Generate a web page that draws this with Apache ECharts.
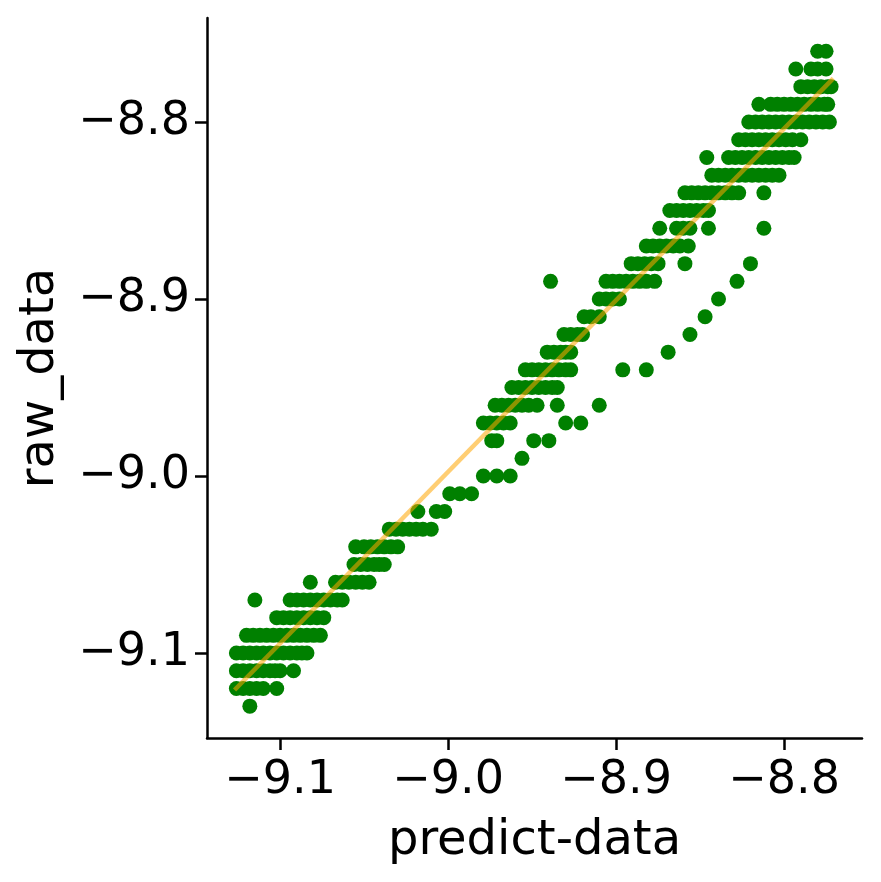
<!DOCTYPE html>
<html>
<head>
<meta charset="utf-8">
<script src="https://cdn.jsdelivr.net/npm/echarts@6/dist/echarts.min.js"></script>
<style>
html,body{margin:0;padding:0;background:#fff;}
#chart{width:881px;height:882px;}
</style>
</head>
<body>
<div id="chart"></div>
<script>
// raw_data levels (y) and the predict-data values (x) of the points at each level
const rawLevels = [-9.13,-9.12,-9.11,-9.10,-9.09,-9.08,-9.07,-9.06,-9.05,-9.04,-9.03,-9.02,-9.01,-9.00,-8.99,-8.98,-8.97,-8.96,-8.95,-8.94,-8.93,-8.92,-8.91,-8.90,-8.89,-8.88,-8.87,-8.86,-8.85,-8.84,-8.83,-8.82,-8.81,-8.80,-8.79,-8.78,-8.77,-8.76];
const predictByLevel = [
  [-9.118],
  [-9.126,-9.122,-9.118,-9.114,-9.110,-9.102],
  [-9.126,-9.122,-9.118,-9.114,-9.110,-9.106,-9.103,-9.100,-9.092],
  [-9.126,-9.122,-9.118,-9.114,-9.110,-9.106,-9.102,-9.098,-9.094,-9.090,-9.087,-9.084],
  [-9.120,-9.116,-9.112,-9.108,-9.104,-9.100,-9.096,-9.092,-9.088,-9.084,-9.080,-9.076],
  [-9.102,-9.098,-9.094,-9.090,-9.086,-9.082,-9.078,-9.074],
  [-9.115,-9.094,-9.090,-9.086,-9.082,-9.078,-9.074,-9.070,-9.066,-9.063],
  [-9.082,-9.067,-9.063,-9.059,-9.055,-9.051,-9.047],
  [-9.056,-9.052,-9.048,-9.044,-9.041,-9.038],
  [-9.055,-9.050,-9.046,-9.042,-9.038,-9.034,-9.030],
  [-9.035,-9.031,-9.027,-9.023,-9.019,-9.015,-9.010],
  [-9.018,-9.007,-9.002],
  [-8.999,-8.993,-8.986],
  [-8.979,-8.971,-8.963],
  [-8.956],
  [-8.974,-8.971,-8.949,-8.940],
  [-8.979,-8.975,-8.971,-8.967,-8.963,-8.930,-8.921],
  [-8.972,-8.968,-8.964,-8.960,-8.956,-8.952,-8.947,-8.935,-8.910],
  [-8.962,-8.958,-8.954,-8.950,-8.946,-8.942,-8.938,-8.935],
  [-8.954,-8.950,-8.946,-8.942,-8.938,-8.934,-8.930,-8.927,-8.896,-8.882],
  [-8.941,-8.937,-8.933,-8.930,-8.927,-8.869],
  [-8.931,-8.927,-8.923,-8.920,-8.856],
  [-8.919,-8.915,-8.910,-8.847],
  [-8.910,-8.906,-8.902,-8.898,-8.839],
  [-8.939,-8.906,-8.902,-8.898,-8.894,-8.890,-8.886,-8.882,-8.877,-8.828],
  [-8.891,-8.887,-8.883,-8.879,-8.875,-8.859,-8.820],
  [-8.882,-8.878,-8.874,-8.870,-8.866,-8.862,-8.857],
  [-8.874,-8.864,-8.860,-8.856,-8.845,-8.812],
  [-8.868,-8.864,-8.860,-8.856,-8.852,-8.848,-8.845],
  [-8.859,-8.855,-8.851,-8.847,-8.843,-8.839,-8.835,-8.831,-8.827,-8.812],
  [-8.843,-8.839,-8.835,-8.831,-8.827,-8.823,-8.819,-8.815,-8.811,-8.807,-8.803],
  [-8.846,-8.833,-8.829,-8.825,-8.821,-8.817,-8.813,-8.809,-8.805,-8.801,-8.797,-8.794],
  [-8.827,-8.823,-8.819,-8.815,-8.811,-8.807,-8.803,-8.799,-8.795,-8.790],
  [-8.821,-8.817,-8.813,-8.809,-8.805,-8.801,-8.797,-8.793,-8.789,-8.785,-8.781,-8.777,-8.773],
  [-8.815,-8.808,-8.804,-8.800,-8.796,-8.792,-8.788,-8.784,-8.780,-8.776,-8.774],
  [-8.790,-8.786,-8.782,-8.778,-8.774,-8.772],
  [-8.793,-8.784,-8.780,-8.775],
  [-8.780,-8.775]
];
// regression line end points (predict-data, raw_data)
const fitX = [-9.1271, -8.7707];
const fitY = [-9.1209, -8.7753];
// tick values
const xTicks = [-9.1, -9.0, -8.9, -8.8];
const yTicks = [-9.1, -9.0, -8.9, -8.8];

const points = [];
rawLevels.forEach((lv, i) => predictByLevel[i].forEach(px => points.push([px, lv])));
const fitLine = fitX.map((x, i) => [x, fitY[i]]);

const fmt = v => (v < 0 ? '\u2212' : '') + Math.abs(v).toFixed(1);
const FONT = 'DejaVu Sans';

const chart = echarts.init(document.getElementById('chart'), null, {renderer: 'canvas'});
chart.setOption({
  animation: false,
  backgroundColor: '#fff',
  grid: {left: 207, right: 19, top: 18, bottom: 144, containLabel: false, outerBoundsMode: 'none'},
  xAxis: {
    type: 'value', min: -9.1435, max: -8.7536,
    name: 'predict-data', nameLocation: 'middle', nameGap: 80,
    nameTextStyle: {fontFamily: FONT, fontSize: 48, color: '#000'},
    axisLine: {show: true, lineStyle: {color: '#000', width: 2.5}},
    axisTick: {show: true, inside: false, length: 12, lineStyle: {color: '#000', width: 2.5}, customValues: xTicks},
    axisLabel: {fontFamily: FONT, fontSize: 46, color: '#000', margin: 20, customValues: xTicks, formatter: fmt},
    splitLine: {show: false}
  },
  yAxis: {
    type: 'value', min: -9.148, max: -8.7412,
    name: 'raw_data', nameLocation: 'middle', nameGap: 142, nameRotate: 90,
    nameTextStyle: {fontFamily: FONT, fontSize: 48, color: '#000'},
    axisLine: {show: true, lineStyle: {color: '#000', width: 2.5}},
    axisTick: {show: true, inside: false, length: 12, lineStyle: {color: '#000', width: 2.5}, customValues: yTicks},
    axisLabel: {fontFamily: FONT, fontSize: 46, color: '#000', margin: 17, customValues: yTicks, formatter: fmt},
    splitLine: {show: false}
  },
  series: [
    {type: 'scatter', data: points, symbolSize: 15, itemStyle: {color: '#008000', opacity: 1}, z: 2},
    {type: 'line', data: fitLine, showSymbol: false, symbol: 'none',
     lineStyle: {color: 'rgba(255,165,0,0.55)', width: 4.5}, z: 3}
  ]
});
</script>
</body>
</html>
